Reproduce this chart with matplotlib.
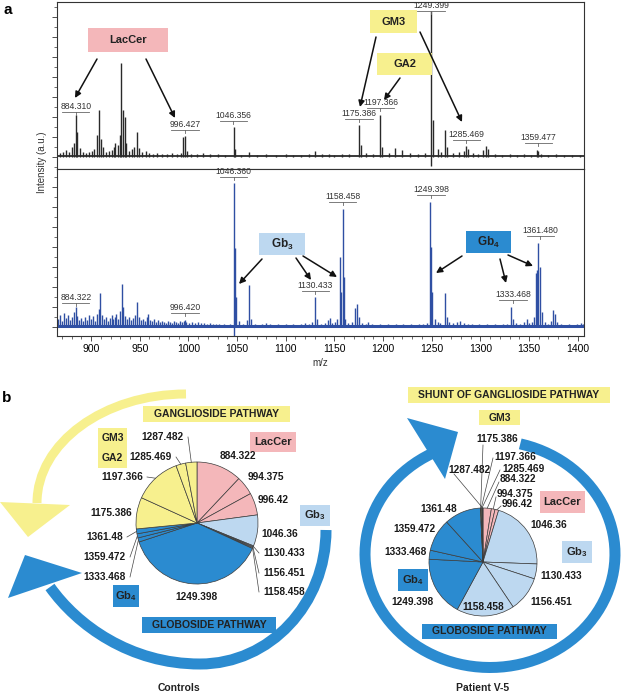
import numpy as np
import matplotlib
matplotlib.use('Agg')
import matplotlib.pyplot as plt
from matplotlib.patches import Rectangle, Polygon, PathPatch
from matplotlib.path import Path
from matplotlib.ticker import MultipleLocator

plt.rcParams['font.family'] = ['Liberation Sans', 'DejaVu Sans']
plt.rcParams['mathtext.fontset'] = 'custom'
plt.rcParams['mathtext.rm'] = 'Liberation Sans'
plt.rcParams['mathtext.bf'] = 'Liberation Sans:bold'

# ---- panel a: MALDI spectra (heights in arbitrary units) ----
top_mz = [868, 871, 874, 877, 880, 882.5, 884.3, 886, 889, 892, 895, 898, 901, 903.5, 906, 908, 910,
          912.5, 915, 918, 921, 923.5, 925, 927.5, 929.4, 931, 932.8, 934.5, 936, 939, 942, 944.5, 947,
          949, 952, 956, 960, 964, 968, 973, 978, 983, 988, 992, 994.4, 996.4, 998.5, 1003, 1009, 1015,
          1022, 1030, 1038, 1046.4, 1048, 1054, 1062, 1070, 1080, 1090, 1100, 1108, 1116, 1124, 1130,
          1137, 1144, 1150, 1158, 1165, 1175.4, 1177, 1183, 1190, 1197.4, 1199, 1206, 1212.5, 1220,
          1228, 1236, 1243, 1249.4, 1251, 1256, 1260, 1263.8, 1266, 1272, 1278, 1283, 1285.5, 1287.5,
          1292, 1298, 1303, 1305.8, 1308, 1315, 1322, 1330, 1338, 1345, 1352, 1357.9, 1359.6, 1362,
          1370, 1378, 1386, 1394, 1402]
top_int = [4, 5, 7, 5, 10, 14, 42, 25, 9, 5, 4, 5, 6, 8, 22, 47, 18,
           10, 5, 6, 7, 10, 14, 12, 22, 94, 47, 40, 14, 6, 8, 10, 25,
           9, 5, 6, 4, 3, 4, 3, 3, 4, 3, 4, 20, 21, 6, 3, 3, 4,
           3, 3, 2, 30, 8, 2, 5, 2, 3, 2, 3, 2, 2, 3, 6,
           3, 3, 2, 3, 3, 32, 12, 4, 3, 42, 10, 4, 9, 7,
           4, 3, 4, 146, 37, 8, 5, 27, 10, 4, 5, 6, 11, 8,
           4, 3, 7, 11, 8, 3, 2, 3, 2, 3, 2, 7, 6, 3,
           2, 3, 2, 2, 2]
top_labels = [('884.310', 45), ('996.427', 27), ('1046.356', 36), ('1175.386', 38),
              ('1197.366', 49), ('1249.399', 146), ('1285.469', 17), ('1359.477', 14)]

bot_mz = [866, 868, 870, 872, 874, 876, 878, 880, 882, 884.3, 886, 888, 890, 892, 894, 896, 898, 900,
          902, 904, 906, 908, 909.5, 911, 913, 915, 917, 919, 921, 923, 925, 926, 928, 930, 931.8, 933,
          935, 937, 939, 941, 943, 945, 947, 949, 951, 953, 955, 957, 959, 961, 963, 965, 967, 969, 971,
          973, 975, 977, 979, 981, 983, 985, 987, 989, 991, 993, 995, 996.4, 998, 1001, 1004, 1007,
          1010, 1013, 1016, 1019, 1022, 1025, 1028, 1031, 1034, 1037, 1040, 1043, 1046.4, 1047.6,
          1049, 1052, 1056, 1060, 1061.8, 1064, 1068, 1072, 1076, 1080, 1084, 1088, 1092, 1096, 1100,
          1104, 1108, 1112, 1116, 1120, 1124, 1127, 1130.4, 1132, 1136, 1140, 1143, 1145, 1148, 1151,
          1153, 1155.3, 1156.5, 1158.5, 1159.5, 1161, 1164, 1168, 1171.4, 1173.7, 1175, 1178, 1182,
          1185, 1189, 1193, 1197, 1201, 1205, 1209, 1213, 1217, 1221, 1225, 1229, 1233, 1237, 1241,
          1245, 1248.4, 1249.5, 1250.5, 1253, 1256, 1259, 1263.8, 1265.5, 1268, 1272, 1276, 1279,
          1283, 1287, 1291, 1295, 1299, 1303, 1307, 1311, 1315, 1319, 1323, 1327, 1331.5, 1334, 1337,
          1341, 1345, 1347.6, 1350, 1353, 1355, 1357.2, 1358.6, 1359.6, 1361.5, 1363, 1366, 1370,
          1373, 1375, 1376.7, 1379, 1383, 1387, 1391, 1395, 1399, 1403, 1405]
bot_int = [8, 12, 6, 14, 9, 12, 7, 10, 15, 20, 11, 7, 9, 6, 10, 7, 12, 8,
           11, 6, 13, 18, 34, 12, 8, 10, 6, 9, 12, 8, 10, 13, 8, 16, 43, 20,
           11, 8, 10, 7, 9, 12, 25, 10, 7, 8, 6, 10, 13, 7, 6, 8, 5, 7, 5,
           6, 5, 4, 6, 5, 4, 6, 5, 4, 6, 5, 6, 7, 5, 4, 5, 4,
           5, 4, 4, 3, 4, 3, 3, 3, 2, 3, 2, 3, 144, 79,
           30, 6, 3, 7, 42, 8, 3, 2, 3, 4, 3, 2, 3, 2, 3,
           2, 3, 2, 3, 4, 3, 5, 30, 8, 3, 4, 7, 9, 4, 5,
           8, 70, 35, 118, 50, 8, 4, 5, 19, 23, 10, 4, 3,
           5, 3, 2, 3, 2, 3, 2, 3, 2, 3, 2, 3, 2, 3, 3,
           4, 125, 80, 35, 8, 5, 4, 34, 10, 5, 4, 5, 6,
           4, 3, 3, 2, 3, 2, 3, 2, 3, 2, 3, 3, 20, 8, 4,
           3, 5, 8, 4, 5, 10, 54, 57, 84, 60, 15, 5, 3,
           6, 17, 13, 5, 3, 2, 3, 2, 3, 4, 3]
bot_labels = [('884.322', 24), ('996.420', 14), ('1046.360', 150), ('1130.433', 36),
              ('1158.458', 125), ('1249.398', 132), ('1333.468', 27), ('1361.480', 91)]

# ---- panel b: relative abundance of each species (%) ----
species = ['884.322', '994.375', '996.42', '1046.36', '1130.433', '1156.451', '1158.458',
           '1249.398', '1333.468', '1359.472', '1361.48', '1175.386', '1197.366', '1285.469', '1287.482']
species_group = ['LacCer'] * 3 + ['Gb3'] * 4 + ['Gb4'] * 4 + ['Gang'] * 4
controls_pct = [12.1, 5.0, 5.9, 8.3, 0.25, 0.25, 0.25, 38.3, 1.1, 1.1, 1.3, 8.4, 12.7, 2.6, 3.0]
patient_pct = [2.5, 1.1, 1.1, 21.0, 4.5, 10.6, 17.4, 18.0, 2.7, 9.8, 11.0, 0.2, 0.2, 0.2, 0.2]

PINK = '#f4b7ba'
YELLOW = '#f7f08e'
LIGHT = '#bdd8f0'
BLUE = '#2b8bd0'
group_color = {'LacCer': PINK, 'Gb3': LIGHT, 'Gb4': BLUE, 'Gang': YELLOW}

W, H = 622, 694
fig = plt.figure(figsize=(W / 100, H / 100), dpi=100)


def frac(x0, y0, x1, y1):
    return [x0 / W, 1 - y1 / H, (x1 - x0) / W, (y1 - y0) / H]


ax_top = fig.add_axes(frac(57, 2, 584, 169))
ax_bot = fig.add_axes(frac(57, 169, 584, 336))


def spectrum(ax, mz, inten, color, ylim, labels, base_lw):
    mz = np.asarray(mz, float)
    inten = np.asarray(inten, float)
    low = np.where(inten == inten.max(), -9, 0)
    ax.vlines(mz, low, inten, color=color, lw=1.0)
    ax.axhline(1, color=color, lw=base_lw)
    ax.set_xlim(865, 1406.5)
    ax.set_ylim(*ylim)
    for text, y in labels:
        x = float(text)
        ax.text(x, y + 1, text, ha='center', va='bottom', fontsize=6.2, color='#333333')
        ax.plot([x - 14, x + 14], [y, y], color='#666666', lw=0.6)
        ax.plot([x, x], [y, y - 3], color='#666666', lw=0.6)
    for s in ax.spines.values():
        s.set_color('#333333')
        s.set_linewidth(0.8)
    ax.yaxis.set_major_locator(MultipleLocator(20))
    ax.yaxis.set_minor_locator(MultipleLocator(10))
    ax.xaxis.set_major_locator(MultipleLocator(50))
    ax.xaxis.set_minor_locator(MultipleLocator(10))
    ax.tick_params(axis='y', which='major', length=3.5, width=0.6, labelleft=False, color='#333333')
    ax.tick_params(axis='y', which='minor', length=2, width=0.5, color='#333333')


spectrum(ax_top, top_mz, top_int, '#2a2a2a', (-12, 155), top_labels, 1.3)
spectrum(ax_bot, bot_mz, bot_int, '#2f4fa3', (-9, 158), bot_labels, 2.2)
ax_top.tick_params(axis='x', which='both', bottom=False, labelbottom=False)
ax_bot.tick_params(axis='x', which='major', length=3.5, width=0.6, labelsize=7.5, pad=2, color='#333333')
ax_bot.tick_params(axis='x', which='minor', length=2, width=0.5, color='#333333')
ax_bot.set_xlabel('m/z', fontsize=7, labelpad=3, color='#333333')
fig.text(42 / W, 1 - 162 / H, 'Intensity (a.u.)', rotation=90, ha='center', va='center',
         fontsize=7, color='#333333')

# ---- overlay in pixel coordinates ----
ov = fig.add_axes([0, 0, 1, 1], zorder=5)
ov.patch.set_visible(False)


def box(x0, y0, x1, y1, color, text=None, fs=8):
    ov.add_patch(Rectangle((x0, y0), x1 - x0, y1 - y0, facecolor=color, edgecolor='none'))
    if text:
        ov.text((x0 + x1) / 2, (y0 + y1) / 2, text, ha='center', va='center', fontsize=fs,
                fontweight='bold', color='#222222')


def arrow(start, end):
    ov.annotate('', xy=end, xytext=start,
                arrowprops=dict(arrowstyle='-|>', color='#111111', lw=1.1, mutation_scale=9,
                                shrinkA=0, shrinkB=0))


# panel a annotations
box(88, 28, 168, 52, PINK, 'LacCer')
box(370, 10, 417, 33, YELLOW, 'GM3')
box(377, 53, 432, 75, YELLOW, 'GA2')
box(259, 233, 305, 255, LIGHT, r'Gb$_\mathbf{3}$', 8.5)
box(466, 231, 511, 253, BLUE, r'Gb$_\mathbf{4}$', 8.5)
for s, e in [((97, 59), (75, 98)), ((146, 59), (175, 118)), ((376, 37), (360, 107)),
             ((420, 32), (462, 122)), ((400, 78), (384, 100)), ((262, 259), (239, 284)),
             ((296, 258), (311, 280)), ((303, 256), (337, 277)), ((462, 256), (436, 273)),
             ((500, 259), (506, 283)), ((508, 255), (533, 266))]:
    arrow(s, e)

# panel b pathway arrows


def band(points, width, color):
    codes = [Path.MOVETO] + [Path.CURVE4] * (len(points) - 1)
    ov.add_patch(PathPatch(Path(points, codes), fill=False, lw=width * 0.72, edgecolor=color,
                           capstyle='butt'))


band([(186, 394), (104, 394), (37, 443), (37, 503)], 9, YELLOW)
ov.add_patch(Polygon([(0, 502), (70, 505), (28, 537)], facecolor=YELLOW, edgecolor='none'))
band([(326, 530), (326, 604), (270, 664), (200, 664), (130, 664), (77, 625), (50, 587)], 11, BLUE)
ov.add_patch(Polygon([(25, 555), (8, 598), (82, 573)], facecolor=BLUE, edgecolor='none'))
t = np.deg2rad(np.linspace(76, -242, 200))
ov.plot(490 + 125 * np.cos(t), 554 - 113.5 * np.sin(t), color=BLUE, lw=11 * 0.72,
        solid_capstyle='butt')
ov.add_patch(Polygon([(458, 432), (407, 418), (445, 479)], facecolor=BLUE, edgecolor='none'))

# pies
controls_labels = {
    '884.322': (238, 456, 'center', None), '994.375': (266, 477, 'center', None),
    '996.42': (273, 500, 'center', None), '1046.36': (280, 534, 'center', None),
    '1130.433': (263, 553, 'left', (259, 553)), '1156.451': (263, 573, 'left', (259, 573)),
    '1158.458': (263, 592, 'left', (259, 592)), '1249.398': (196, 597, 'center', None),
    '1333.468': (126, 577, 'right', (130, 577)), '1359.472': (126, 557, 'right', (130, 557)),
    '1361.48': (123, 537, 'right', (127, 537)), '1175.386': (132, 513, 'right', None),
    '1197.366': (143, 477, 'right', (147, 477)), '1285.469': (172, 457, 'right', (176, 457)),
    '1287.482': (184, 437, 'right', (188, 437)),
}
patient_labels = {
    '884.322': (500, 479, 'left', (499, 482)), '994.375': (497, 494, 'left', (496, 497)),
    '996.42': (502, 504, 'left', (501, 506)), '1046.36': (530, 525, 'left', None),
    '1130.433': (540, 576, 'left', None), '1156.451': (530, 602, 'left', None),
    '1158.458': (483, 607, 'center', None), '1249.398': (433, 602, 'right', None),
    '1333.468': (427, 552, 'right', None), '1359.472': (435, 529, 'right', None),
    '1361.48': (457, 509, 'right', None), '1175.386': (497, 439, 'center', (483, 445)),
    '1197.366': (515, 457, 'center', (493, 458)), '1285.469': (502, 469, 'left', (500, 470)),
    '1287.482': (469, 470, 'center', (454, 474)),
}


def draw_pie(values, cx, cy, r, label_pos):
    wedges, _ = ov.pie(values, colors=[group_color[g] for g in species_group], startangle=-90,
                       counterclock=True, center=(cx, cy), radius=r,
                       wedgeprops=dict(edgecolor='#3c3c3c', linewidth=0.5))
    for w, name in zip(wedges, species):
        x, y, ha, lead = label_pos[name]
        ov.text(x, y, name, ha=ha, va='center', fontsize=7.3, fontweight='bold', color='#1a1a1a')
        if lead is not None:
            m = np.deg2rad((w.theta1 + w.theta2) / 2)
            ov.plot([lead[0], cx + r * np.cos(m)], [lead[1], cy + r * np.sin(m)],
                    color='#444444', lw=0.5)


draw_pie(controls_pct, 197, 523, 61, controls_labels)
draw_pie(patient_pct, 483, 562, 54, patient_labels)

box(143, 406, 290, 422, YELLOW, 'GANGLIOSIDE PATHWAY', 7.5)
box(250, 432, 296, 452, PINK, 'LacCer')
box(98, 428, 127, 468, YELLOW)
ov.text(112.5, 438, 'GM3', ha='center', va='center', fontsize=7.5, fontweight='bold', color='#222222')
ov.text(112.5, 458, 'GA2', ha='center', va='center', fontsize=7.5, fontweight='bold', color='#222222')
box(300, 505, 330, 526, LIGHT, r'Gb$_\mathbf{3}$')
box(113, 585, 139, 607, BLUE, r'Gb$_\mathbf{4}$')
box(142, 617, 276, 633, BLUE, 'GLOBOSIDE PATHWAY', 7.5)
ov.text(179, 688, 'Controls', ha='center', va='center', fontsize=7.5, fontweight='bold', color='#222222')

box(408, 387, 610, 403, YELLOW, 'SHUNT OF GANGLIOSIDE PATHWAY', 7.5)
box(479, 410, 520, 425, YELLOW, 'GM3', 7.5)
box(540, 491, 585, 513, PINK, 'LacCer')
box(562, 541, 592, 563, LIGHT, r'Gb$_\mathbf{3}$')
box(398, 569, 428, 591, BLUE, r'Gb$_\mathbf{4}$')
box(422, 624, 557, 639, BLUE, 'GLOBOSIDE PATHWAY', 7.5)
ov.text(483, 688, 'Patient V-5', ha='center', va='center', fontsize=7.5, fontweight='bold', color='#222222')

ov.text(8, 10, 'a', ha='center', va='center', fontsize=11, fontweight='bold')
ov.text(7, 398, 'b', ha='center', va='center', fontsize=11, fontweight='bold')

ov.set_aspect('auto')
ov.set_xlim(0, W)
ov.set_ylim(H, 0)
ov.axis('off')

fig.savefig('out.png', dpi=100)
